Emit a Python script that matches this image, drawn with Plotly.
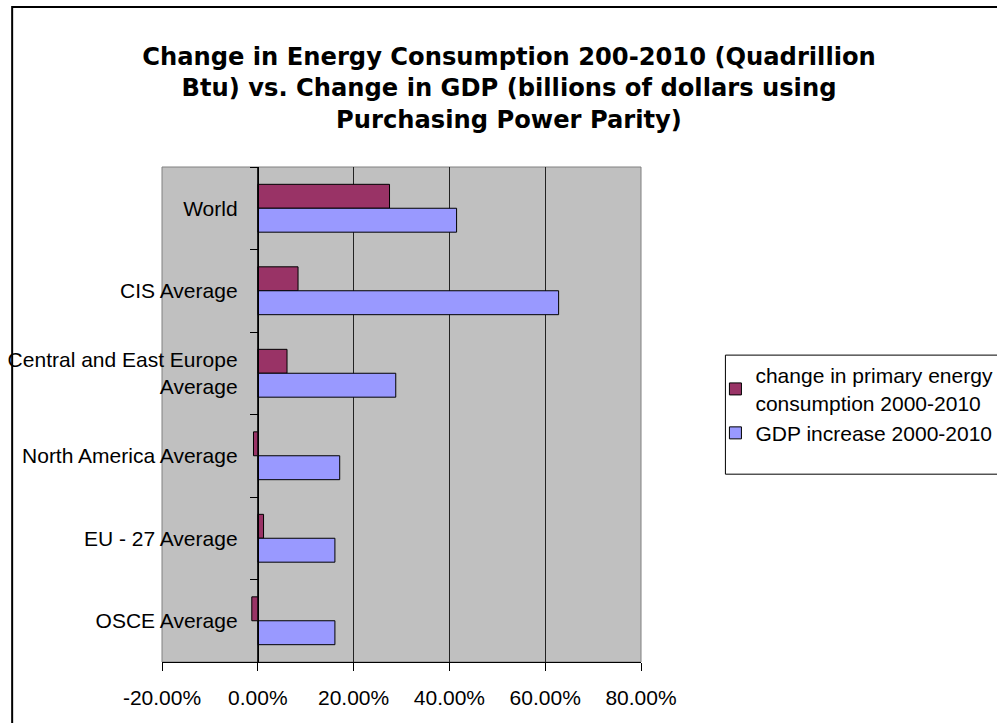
import plotly.graph_objects as go

categories = ["World", "CIS Average", "Central and East Europe<br>Average",
              "North America Average", "EU - 27 Average", "OSCE Average"]
energy_change = [0.275, 0.084, 0.061, -0.009, 0.012, -0.0125]
gdp_increase = [0.415, 0.628, 0.288, 0.171, 0.161, 0.161]
series_names = ["change in primary energy<br>consumption 2000-2010", "GDP increase 2000-2010"]
x_ticks = [-0.2, 0.0, 0.2, 0.4, 0.6, 0.8]
x_tick_labels = ["-20.00%", "0.00%", "20.00%", "40.00%", "60.00%", "80.00%"]

title_text = ("Change in Energy Consumption 200-2010 (Quadrillion<br>"
              "Btu) vs. Change in GDP (billions of dollars using<br>"
              "Purchasing Power Parity)")

W, H = 997, 723
L, R, T, B = 162, 355.5, 167, 61.3
PW, PH = W - L - R, H - T - B
FONT = "Arial, Liberation Sans, sans-serif"
TITLE_FONT = "DejaVu Sans, Arial, sans-serif"


def px(x):
    return (x - L) / PW


def py(y):
    return (H - B - y) / PH


fig = go.Figure()
fig.add_trace(go.Bar(y=categories, x=energy_change, orientation="h", name=series_names[0],
                     marker=dict(color="#993366", line=dict(color="black", width=1))))
fig.add_trace(go.Bar(y=categories, x=gdp_increase, orientation="h", name=series_names[1],
                     marker=dict(color="#9999FF", line=dict(color="black", width=1))))

fig.update_layout(
    width=W, height=H,
    margin=dict(l=L, r=R, t=T, b=B, autoexpand=False),
    paper_bgcolor="white", plot_bgcolor="#C0C0C0",
    font=dict(family=FONT, size=21, color="black"),
    barmode="group", bargap=0.42, bargroupgap=0,
    title=dict(text=title_text, x=509 / W, xanchor="center", xref="container",
               y=1 - 65 / H, yanchor="middle", yref="container",
               font=dict(family=TITLE_FONT, size=24.2, color="black", weight="bold")),
    showlegend=True,
    legend=dict(x=px(716), xanchor="left",
                y=py(355), yanchor="top",
                bgcolor="rgba(0,0,0,0)", borderwidth=0,
                font=dict(family=FONT, size=21, color="black"),
                traceorder="normal"),
    xaxis=dict(range=[-0.2, 0.8], tickvals=x_ticks, ticktext=x_tick_labels,
               showgrid=True, gridcolor="#222222", gridwidth=1, zeroline=False,
               showline=True, linecolor="black", linewidth=1,
               ticks="outside", ticklen=8, tickcolor="black",
               ticklabelstandoff=9),
    yaxis=dict(autorange="reversed", anchor="free", position=0.2,
               showline=True, linecolor="black", linewidth=1,
               ticks="outside", ticklen=8, tickcolor="black", tickson="boundaries",
               showgrid=False, zeroline=False, ticklabelstandoff=16),
    shapes=[
        dict(type="rect", xref="paper", yref="paper", x0=0, x1=1, y0=0, y1=1,
             line=dict(color="#808080", width=1), layer="below"),
        dict(type="rect", xref="paper", yref="paper",
             x0=px(726), x1=px(1010), y0=py(474), y1=py(355),
             fillcolor="white", line=dict(color="black", width=1), layer="below"),
        dict(type="path", xref="paper", yref="paper",
             path="M %f,%f L %f,%f L %f,%f" % (
                 px(12), py(760), px(12), py(7), px(1010), py(7)),
             line=dict(color="black", width=2), layer="above"),
    ],
)

fig.write_html("out.html", config={"displayModeBar": False},
               post_script="document.body.style.margin='0';")
